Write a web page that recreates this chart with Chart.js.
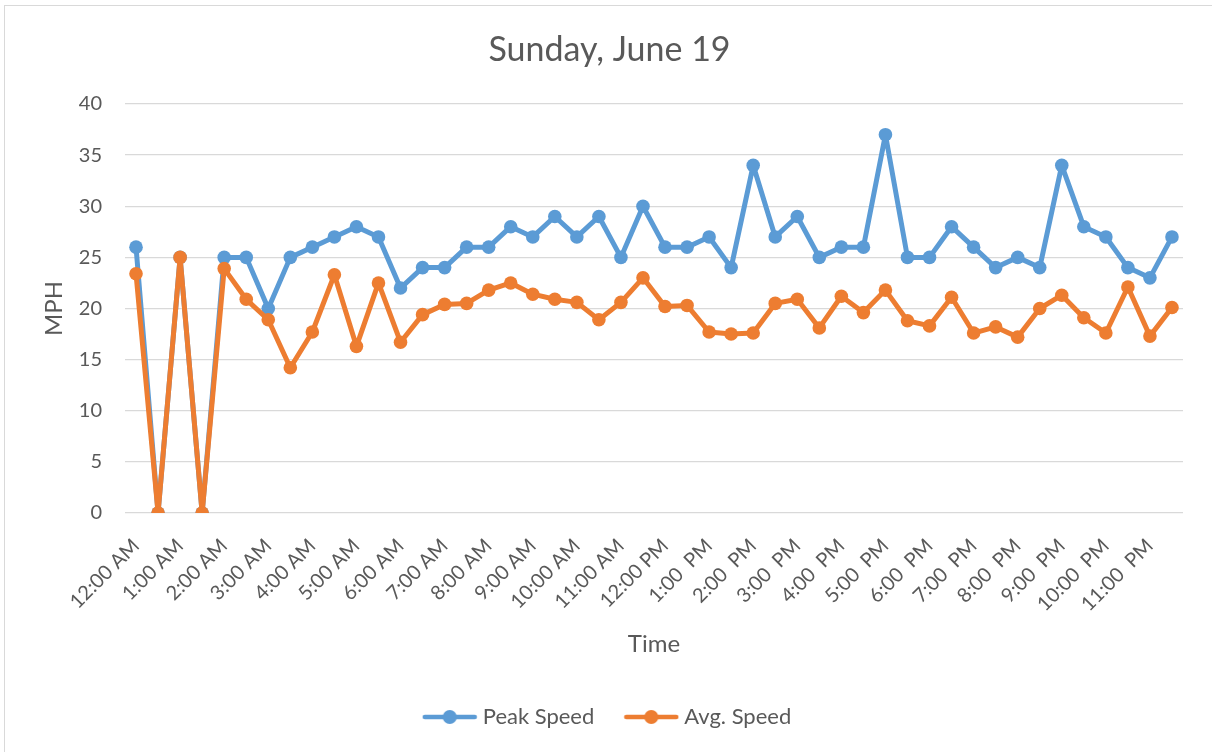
<!DOCTYPE html>
<html>
<head>
<meta charset="utf-8">
<script src="https://cdn.jsdelivr.net/npm/chart.js@4/dist/chart.umd.min.js"></script>
<style>
  html, body { margin: 0; padding: 0; background: #fff; }
  #frame { position: absolute; left: 4px; top: 5px; width: 1220px; height: 760px; border-left: 1px solid #d9d9d9; border-top: 1px solid #d9d9d9; }
  #c { position: absolute; left: 0; top: 0; }
</style>
</head>
<body>
<div id="frame"></div>
<canvas id="c" width="1212" height="752"></canvas>
<script>
// half-hour slots, one label per hour
const times = []
const hourLabels = ['12:00 AM', '1:00 AM', '2:00 AM', '3:00 AM', '4:00 AM', '5:00 AM', '6:00 AM', '7:00 AM',
  '8:00 AM', '9:00 AM', '10:00 AM', '11:00 AM', '12:00 PM', '1:00  PM', '2:00  PM', '3:00  PM', '4:00  PM',
  '5:00  PM', '6:00  PM', '7:00  PM', '8:00  PM', '9:00  PM', '10:00  PM', '11:00  PM']
hourLabels.forEach(h => { times.push(h); times.push(h.replace(':00', ':30')) })

const peakSpeed = [26, 0, 25, 0, 25, 25, 20, 25, 26, 27, 28, 27, 22, 24, 24, 26, 26, 28, 27, 29, 27, 29, 25, 30,
  26, 26, 27, 24, 34, 27, 29, 25, 26, 26, 37, 25, 25, 28, 26, 24, 25, 24, 34, 28, 27, 24, 23, 27]
const avgSpeed = [23.4, 0, 25, 0, 23.9, 20.9, 18.9, 14.2, 17.7, 23.3, 16.3, 22.5, 16.7, 19.4, 20.4, 20.5, 21.8, 22.5,
  21.4, 20.9, 20.6, 18.9, 20.6, 23, 20.2, 20.3, 17.7, 17.5, 17.6, 20.5, 20.9, 18.1, 21.2, 19.6, 21.8, 18.8, 18.3,
  21.1, 17.6, 18.2, 17.2, 20, 21.3, 19.1, 17.6, 22.1, 17.3, 20.1]

const blue = '#5b9bd5'
const orange = '#ed7d31'
const textColor = '#595959'
const font = 'Lato, "Open Sans", sans-serif'

// legend marker: short line with a dot in the middle
function marker(color) {
  const cv = document.createElement('canvas')
  cv.width = 56
  cv.height = 16
  const g = cv.getContext('2d')
  g.strokeStyle = color
  g.lineWidth = 4.5
  g.lineCap = 'round'
  g.beginPath()
  g.moveTo(3, 8)
  g.lineTo(53, 8)
  g.stroke()
  g.fillStyle = color
  g.beginPath()
  g.arc(28, 8, 7, 0, Math.PI * 2)
  g.fill()
  return cv
}
const markers = [marker(blue), marker(orange)]

new Chart(document.getElementById('c'), {
  type: 'line',
  data: {
    labels: times,
    datasets: [{
      label: 'Peak Speed',
      data: peakSpeed,
      borderColor: blue,
      backgroundColor: blue,
      borderWidth: 5,
      borderJoinStyle: 'round',
      pointRadius: 6.8,
      pointBorderWidth: 0,
      tension: 0,
      order: 1
    }, {
      label: 'Avg. Speed',
      data: avgSpeed,
      borderColor: orange,
      backgroundColor: orange,
      borderWidth: 5,
      borderJoinStyle: 'round',
      pointRadius: 6.8,
      pointBorderWidth: 0,
      tension: 0,
      order: 0
    }]
  },
  options: {
    responsive: false,
    animation: false,
    layout: { padding: { left: 36, right: 29, top: 10, bottom: 14 } },
    plugins: {
      tooltip: { enabled: false },
      title: {
        display: true,
        text: 'Sunday, June 19',
        color: textColor,
        font: { family: font, size: 34, weight: 'normal' },
        padding: { top: 19.6, bottom: 33.6 }
      },
      legend: {
        position: 'bottom',
        labels: {
          color: textColor,
          font: { family: font, size: 22 },
          usePointStyle: true,
          pointStyleWidth: 44,
          padding: 35,
          sort: (a, b) => a.datasetIndex - b.datasetIndex,
          generateLabels: chart => {
            const items = Chart.defaults.plugins.legend.labels.generateLabels(chart)
            items.forEach(it => { it.pointStyle = markers[it.datasetIndex] })
            return items
          }
        }
      }
    },
    scales: {
      x: {
        offset: true,
        grid: { display: false },
        border: { display: false },
        ticks: {
          autoSkip: false,
          minRotation: 45,
          maxRotation: 45,
          color: textColor,
          font: { family: font, size: 20 },
          padding: 13,
          callback: (v, i) => i % 2 === 0 ? hourLabels[i / 2] : ''
        },
        title: {
          display: true,
          text: 'Time',
          color: textColor,
          font: { family: font, size: 24 },
          padding: { top: 12, bottom: 12 }
        },
        afterFit: s => { s.height = 158 }
      },
      y: {
        min: 0,
        max: 40,
        grid: { color: '#d9d9d9', lineWidth: 1.3, drawTicks: false },
        border: { display: false },
        ticks: {
          stepSize: 5,
          color: textColor,
          font: { family: font, size: 20 },
          padding: 23
        },
        title: {
          display: true,
          text: 'MPH',
          color: textColor,
          font: { family: font, size: 24 },
          padding: { top: 4, bottom: 4 }
        },
        afterFit: s => { s.width = 89 }
      }
    }
  }
})
</script>
</body>
</html>
